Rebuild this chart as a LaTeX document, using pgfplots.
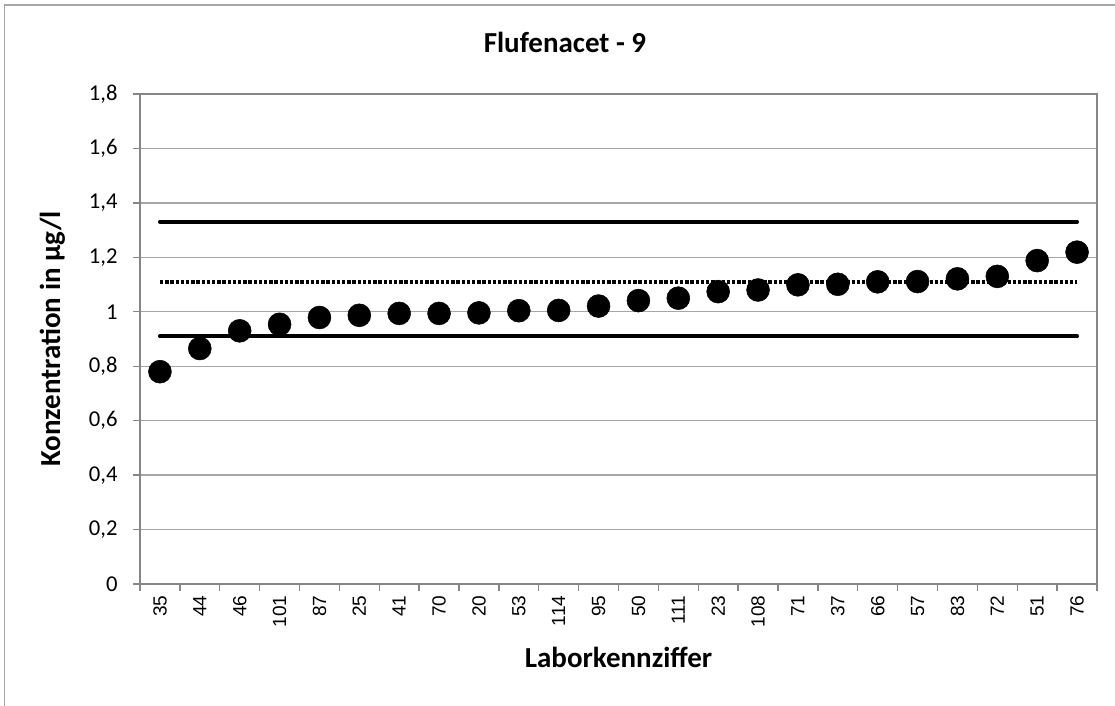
\documentclass[border=0pt]{standalone}
\usepackage{fontspec}
\setmainfont{Carlito}
\newfontfamily\arialfont{Liberation Sans}
\usepackage{pgfplots}
\usepackage{pgfplotstable}
\pgfplotsset{compat=1.18}
\definecolor{gridgray}{RGB}{166,166,166}
\definecolor{axisgray}{RGB}{134,134,134}

\pgfplotstableread{
idx lab val
0 35 0.780
1 44 0.865
2 46 0.930
3 101 0.954
4 87 0.979
5 25 0.987
6 41 0.994
7 70 0.994
8 20 0.996
9 53 1.004
10 114 1.005
11 95 1.021
12 50 1.041
13 111 1.050
14 23 1.074
15 108 1.080
16 71 1.099
17 37 1.101
18 66 1.110
19 57 1.111
20 83 1.121
21 72 1.130
22 51 1.188
23 76 1.219
}\datatable

\begin{document}
\begin{tikzpicture}
\useasboundingbox (0,0) rectangle (836.25pt,529.5pt);
\draw[gridgray, line width=1.1pt] (3.4pt,0) -- (3.4pt,525.9pt) -- (836.25pt,525.9pt);
\begin{axis}[
  at={(105pt,91.5pt)}, anchor=south west,
  scale only axis, width=717.75pt, height=367.5pt,
  xmin=-0.5, xmax=23.5, ymin=0, ymax=1.8,
  xtick={0,...,23},
  xticklabels={35,44,46,101,87,25,41,70,20,53,114,95,50,111,23,108,71,37,66,57,83,72,51,76},
  major x tick style={draw=none},
  minor xtick={-0.5,0.5,...,23.5},
  xtick pos=lower, ytick pos=left,
  ytick={0,0.2,0.4,0.6,0.8,1,1.2,1.4,1.6,1.8},
  yticklabels={0,{0,2},{0,4},{0,6},{0,8},1,{1,2},{1,4},{1,6},{1,8}},
  tick align=outside,
  major tick length=5.25pt, minor tick length=5.25pt,
  every tick/.append style={axisgray, line width=1pt},
  ymajorgrids, grid style={gridgray, line width=1pt},
  axis line style={axisgray, line width=1.3pt},
  xticklabel style={font=\arialfont\fontsize{14.3}{14.3}\selectfont, rotate=90, anchor=east},
  yticklabel style={font=\fontsize{17}{17}\selectfont, anchor=east, xshift=-8pt},
  clip=false,
]
\addplot[black, line width=3pt, line cap=round, mark=none] coordinates {(0,1.331) (23,1.331)};
\addplot[black, line width=3pt, dash pattern=on 2.6pt off 1.3pt, mark=none] coordinates {(0,1.111) (23,1.111)};
\addplot[black, line width=3pt, line cap=round, mark=none] coordinates {(0,0.910) (23,0.910)};
\addplot[only marks, mark=*, mark size=8.6pt, black] table[x=idx,y=val]{\datatable};
\end{axis}
\node[anchor=base, font=\bfseries\fontsize{21.75}{26}\selectfont] at (423.75pt,489.75pt) {Flufenacet - 9};
\node[anchor=base, font=\bfseries\fontsize{21.75}{26}\selectfont] at (463.9pt,28.5pt) {Laborkennziffer};
\node[anchor=base, rotate=90, font=\bfseries\fontsize{21.75}{26}\selectfont] at (45pt,275.25pt) {Konzentration in µg/l};
\end{tikzpicture}
\end{document}
